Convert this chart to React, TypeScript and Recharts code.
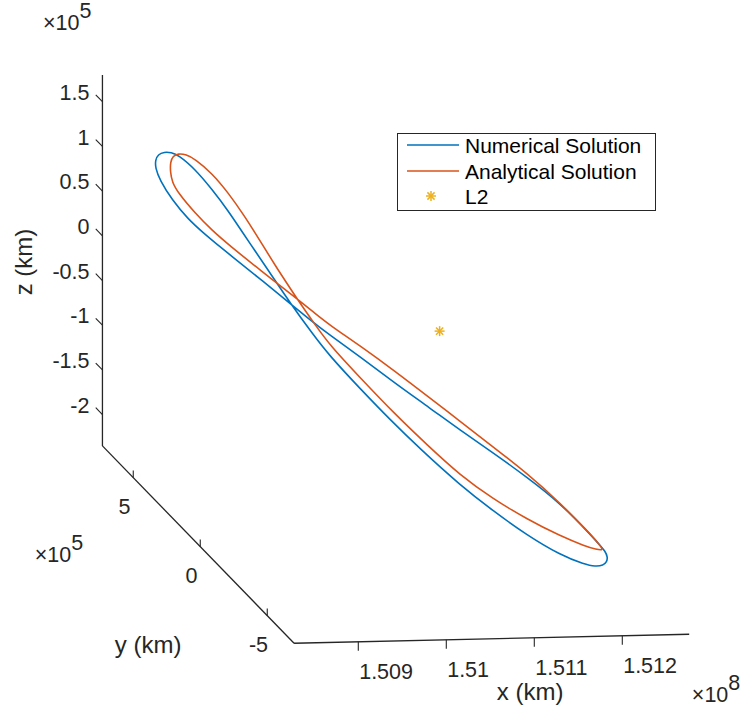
import React from 'react';
import { ComposedChart, Line, Scatter, XAxis, YAxis, ReferenceLine, Legend } from 'recharts';

// ---- tick values and labels (x in 1e8 km, y and z in 1e5 km) ----
const xTicks = [1.509, 1.51, 1.511, 1.512];
const xTickLabels = ['1.509', '1.51', '1.511', '1.512'];
const yTicks = [5, 0, -5];
const yTickLabels = ['5', '0', '-5'];
const zTicks = [1.5, 1, 0.5, 0, -0.5, -1, -1.5, -2];
const zTickLabels = ['1.5', '1', '0.5', '0', '-0.5', '-1', '-1.5', '-2'];

// ---- axis box limits ----
const xLimits = [1.50827, 1.51276];
const yLimits = [-7.0, 7.3];
const zLimits = [-2.35, 1.8];

const seriesNames = ['Numerical Solution', 'Analytical Solution', 'L2'];

// ---- orbit, as seen in the y = 0 plane (x: 1e8 km, z: 1e5 km) ----
const numericalX = [1.50904, 1.5093, 1.50954, 1.50974, 1.51009, 1.51043, 1.51077, 1.51122, 1.5116, 1.51198, 1.51236, 1.51264, 1.51276, 1.51285, 1.51289, 1.5129, 1.51287, 1.51281, 1.51273, 1.51236, 1.51198, 1.5116, 1.51122, 1.51088, 1.51048, 1.51009, 1.50974, 1.50952, 1.5093, 1.50895, 1.50861, 1.50847, 1.50832, 1.50813, 1.50795, 1.50781, 1.50776, 1.50776, 1.50779, 1.50786, 1.50794, 1.50802, 1.50821, 1.5084, 1.50859, 1.50874, 1.50904];
const numericalZ = [0.727, 0.341, 0.011, -0.25, -0.627, -0.982, -1.314, -1.726, -2.026, -2.303, -2.535, -2.647, -2.672, -2.663, -2.625, -2.569, -2.502, -2.433, -2.342, -1.953, -1.654, -1.377, -1.111, -0.858, -0.569, -0.269, -0.016, 0.157, 0.341, 0.629, 0.905, 1.02, 1.146, 1.318, 1.535, 1.761, 1.897, 1.986, 2.047, 2.074, 2.066, 2.037, 1.876, 1.648, 1.397, 1.17, 0.727];
const analyticalX = [1.50912, 1.50937, 1.50957, 1.50974, 1.51009, 1.51048, 1.51085, 1.51122, 1.5116, 1.51198, 1.51236, 1.51264, 1.51277, 1.51285, 1.51282, 1.51266, 1.51236, 1.51198, 1.5116, 1.51122, 1.51088, 1.51048, 1.51009, 1.50974, 1.50957, 1.50937, 1.50895, 1.50861, 1.5084, 1.50821, 1.50802, 1.50795, 1.50793, 1.50793, 1.50796, 1.50802, 1.50811, 1.50821, 1.5084, 1.50859, 1.50878, 1.50888, 1.50912];
const analyticalZ = [0.781, 0.396, 0.111, -0.127, -0.504, -0.916, -1.271, -1.615, -1.891, -2.124, -2.322, -2.441, -2.482, -2.495, -2.445, -2.262, -1.953, -1.609, -1.31, -1.011, -0.746, -0.435, -0.146, 0.096, 0.234, 0.396, 0.729, 1.005, 1.189, 1.383, 1.611, 1.736, 1.848, 1.96, 2.027, 2.053, 2.04, 1.987, 1.827, 1.599, 1.326, 1.167, 0.781];
const orbitY = 0;
const l2Point = [1.51099, 0, 0];

// ---- colours / fonts ----
const BLUE = '#0072BD';
const ORANGE = '#D95319';
const YELLOW = '#EDB120';
const INK = '#262626';
const FONT = '"Liberation Sans", Arial, Helvetica, sans-serif';

// ---- 3D view projection onto the chart plane (h, v) ----
const X0 = 1.51;
function project(x: number, y: number, z: number) {
  return {
    h: x - (13.4 / 88000) * y,
    v: z + (2000 * (x - X0) + 13.8 * y) / 89.4,
  };
}
const hDomain = [X0 - 352.5 / 88000, X0 + 396.5 / 88000];
const vDomain = [(333.1 - 709) / 89.4, 333.1 / 89.4];

const [xmin, xmax] = xLimits;
const [ymin, ymax] = yLimits;
const [zmin, zmax] = zLimits;

const numericalData = numericalX.map((x, i) => project(x, orbitY, numericalZ[i]));
const analyticalData = analyticalX.map((x, i) => project(x, orbitY, analyticalZ[i]));
const l2Data = [project(l2Point[0], l2Point[1], l2Point[2])];

type Seg = [{ h: number; v: number }, { h: number; v: number }];
const axisSegments: Seg[] = [
  [project(xmin, ymax, zmin), project(xmin, ymax, zmax)],
  [project(xmin, ymax, zmin), project(xmin, ymin, zmin)],
  [project(xmin, ymin, zmin), project(xmax, ymin, zmin)],
];
const tickSegments: Seg[] = [
  ...zTicks.map((z) => [project(xmin, ymax, z), project(xmin, ymax + 0.5, z)] as Seg),
  ...yTicks.map((y) => [project(xmin, y, zmin), project(xmin, y, zmin + 0.08)] as Seg),
  ...xTicks.map((x) => [project(x, ymin, zmin), project(x, ymin, zmin - 0.1)] as Seg),
];

const zLabelData = zTicks.map((z, i) => ({ ...project(xmin, ymax + 0.97, z - 0.13), text: zTickLabels[i] }));
const yLabelData = yTicks.map((y, i) => ({ ...project(xmin - 0.0001, y, zmin - 0.4), text: yTickLabels[i] }));
const xLabelData = xTicks.map((x, i) => ({ ...project(x + 0.00001, ymin, zmin - 0.42), text: xTickLabels[i] }));
const axisTitleData = [
  { ...project((xmin + xmax) / 2, ymin - 2.87, zmin - 0.24), text: 'x (km)' },
  { ...project(xmin - 0.00057, 0.15, zmin - 1.2), text: 'y (km)' },
];
const zTitleData = [{ ...project(xmin - 0.0008, ymax, (zmin + zmax) / 2), text: 'z (km)' }];
const expData = [
  { ...project(xmin - 0.000676, ymax, zmax + 0.52), text: '5' },
  { ...project(xmin - 0.00077, ymax, zmin - 1.28), text: '5' },
  { ...project(xmax, ymin - 0.2, zmin - 0.73), text: '8' },
];

const makeText = (anchor: 'start' | 'middle' | 'end', size: number) => (props: any) => {
  const { cx, cy, payload } = props;
  return (
    <text x={cx} y={cy} textAnchor={anchor} fontFamily={FONT} fontSize={size} fill={INK}>
      {payload.text}
    </text>
  );
};
const RotText = (props: any) => {
  const { cx, cy, payload } = props;
  return (
    <text x={cx} y={cy} textAnchor="middle" fontFamily={FONT} fontSize={24} fill={INK} transform={`rotate(-90 ${cx} ${cy})`}>
      {payload.text}
    </text>
  );
};
const ExpText = (props: any) => {
  const { cx, cy, payload } = props;
  return (
    <text x={cx} y={cy} fontFamily={FONT} fontSize={21.5} fill={INK}>
      <tspan>{'\u00d710'}</tspan>
      <tspan dy={-12}>{payload.text}</tspan>
    </text>
  );
};
const Asterisk = (props: any) => {
  const { cx, cy } = props;
  const r = 5;
  const d = 3.6;
  return (
    <g stroke={YELLOW} strokeWidth={1.5}>
      <line x1={cx - r} x2={cx + r} y1={cy} y2={cy} />
      <line x1={cx} x2={cx} y1={cy - r} y2={cy + r} />
      <line x1={cx - d} x2={cx + d} y1={cy - d} y2={cy + d} />
      <line x1={cx - d} x2={cx + d} y1={cy + d} y2={cy - d} />
    </g>
  );
};

const LegendBox = () => (
  <svg width={260} height={79} style={{ display: 'block' }}>
    <rect x={0.5} y={0.5} width={258} height={77} fill="#fff" stroke={INK} strokeWidth={1} />
    <line x1={10} x2={62} y1={12} y2={12} stroke={BLUE} strokeWidth={1.6} />
    <text x={68} y={20} fontFamily={FONT} fontSize={21} fill="#000">{seriesNames[0]}</text>
    <line x1={10} x2={62} y1={38} y2={38} stroke={ORANGE} strokeWidth={1.6} />
    <text x={68} y={46} fontFamily={FONT} fontSize={21} fill="#000">{seriesNames[1]}</text>
    <Asterisk cx={34} cy={63} />
    <text x={68} y={71} fontFamily={FONT} fontSize={21} fill="#000">{seriesNames[2]}</text>
  </svg>
);

export default function App() {
  return (
    <div style={{ position: 'absolute', left: 0, top: 0, width: 749, height: 709, background: '#fff' }}>
      <ComposedChart width={749} height={709} margin={{ top: 0, right: 0, bottom: 0, left: 0 }}>
        <XAxis type="number" dataKey="h" domain={hDomain} hide allowDataOverflow />
        <YAxis type="number" dataKey="v" domain={vDomain} hide allowDataOverflow />
        {axisSegments.map((s, i) => (
          <ReferenceLine key={`ax${i}`} segment={[{ x: s[0].h, y: s[0].v }, { x: s[1].h, y: s[1].v }]} stroke={INK} strokeWidth={1.3} ifOverflow="visible" />
        ))}
        {tickSegments.map((s, i) => (
          <ReferenceLine key={`tk${i}`} segment={[{ x: s[0].h, y: s[0].v }, { x: s[1].h, y: s[1].v }]} stroke={INK} strokeWidth={1.1} ifOverflow="visible" />
        ))}
        <Line data={numericalData} dataKey="v" name={seriesNames[0]} type="basis" stroke={BLUE} strokeWidth={1.6} dot={false} activeDot={false} isAnimationActive={false} />
        <Line data={analyticalData} dataKey="v" name={seriesNames[1]} type="basis" stroke={ORANGE} strokeWidth={1.6} dot={false} activeDot={false} isAnimationActive={false} />
        <Scatter data={l2Data} dataKey="v" name={seriesNames[2]} shape={Asterisk} isAnimationActive={false} />
        <Scatter data={zLabelData} dataKey="v" shape={makeText('end', 21.5)} isAnimationActive={false} legendType="none" />
        <Scatter data={yLabelData} dataKey="v" shape={makeText('middle', 21.5)} isAnimationActive={false} legendType="none" />
        <Scatter data={xLabelData} dataKey="v" shape={makeText('start', 21.5)} isAnimationActive={false} legendType="none" />
        <Scatter data={axisTitleData} dataKey="v" shape={makeText('middle', 24)} isAnimationActive={false} legendType="none" />
        <Scatter data={zTitleData} dataKey="v" shape={RotText} isAnimationActive={false} legendType="none" />
        <Scatter data={expData} dataKey="v" shape={ExpText} isAnimationActive={false} legendType="none" />
        <Legend layout="vertical" align="center" verticalAlign="middle" wrapperStyle={{ left: 397, top: 133, width: 260, height: 79 }} content={() => <LegendBox />} />
      </ComposedChart>
    </div>
  );
}
